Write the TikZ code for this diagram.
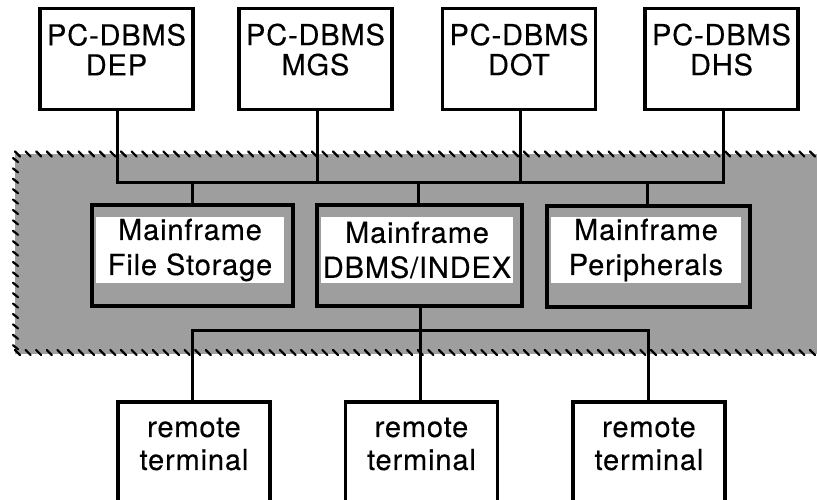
\documentclass[tikz,border=0pt]{standalone}
\usepackage{fontspec}
\setmainfont{TeX Gyre Heros}[LetterSpace=3,FakeBold=0.3]
\begin{document}
\begin{tikzpicture}[x=1pt,y=-1pt,
  conn/.style={line width=3pt},
  hatch/.style={line width=2.2pt,line cap=round},
  shade/.style={fill=black!38},
  topbox/.style={draw,line width=3.2pt,fill=white,minimum width=153pt,minimum height=101pt,inner sep=0pt},
  midbox/.style={draw,line width=3.8pt,shade,minimum height=101pt,inner sep=0pt},
  termbox/.style={draw,line width=3.2pt,fill=white,minimum width=152pt,minimum height=200pt,inner sep=0pt},
  toptxt/.style={inner sep=0pt,align=center,font=\fontsize{29}{30}\selectfont},
  midtxt/.style={inner sep=0pt,align=center,fill=white,minimum height=66pt,font=\fontsize{29}{35}\selectfont},
  termtxt/.style={inner sep=0pt,align=center,font=\fontsize{29}{33}\selectfont}
]
\clip (0,0) rectangle (817,499);
\fill[white] (0,0) rectangle (817,499);

% shaded mainframe region
\fill[shade] (15,154) rectangle (830,354);
\foreach \i in {0,...,76} \draw[hatch] ({15+\i*10.6},151.5) -- ++(5,5);
\foreach \i in {0,...,18} \draw[hatch] (13,{158+\i*10.4}) -- ++(5,4);
\foreach \i in {0,...,76} \draw[hatch] ({15+\i*10.6},350) -- ++(5,5);

% junction coordinates
\coordinate (t1) at (117,182);
\coordinate (t2) at (317,182);
\coordinate (t3) at (520,182);
\coordinate (t4) at (723,182);
\coordinate (m1) at (192,182);
\coordinate (m2) at (418,182);
\coordinate (m3) at (647,182);
\coordinate (l1) at (192,330);
\coordinate (l2) at (420,330);
\coordinate (l3) at (648,330);

% boxes
\node[topbox] (dep) at (116.5,59) {};
\node[topbox] (mgs) at (315.5,59) {};
\node[topbox] (dot) at (519,59) {};
\node[topbox] (dhs) at (721.5,59) {};

\node[midbox,minimum width=201pt] (fs) at (192.5,255.5) {};
\node[midbox,minimum width=205pt] (dbms) at (419.5,255.5) {};
\node[midbox,minimum width=203pt] (per) at (648.5,256.5) {};

\node[termbox] (rt1) at (194,502) {};
\node[termbox] (rt2) at (421.5,502) {};
\node[termbox] (rt3) at (649,502) {};

% connectors
\draw[conn] (dep.south -| t1) -- (t1) -- (t4) -- (t4 |- dhs.south);
\draw[conn] (mgs.south -| t2) -- (t2);
\draw[conn] (dot.south -| t3) -- (t3);
\draw[conn] (m1) -- (m1 |- fs.north);
\draw[conn] (m2) -- (m2 |- dbms.north);
\draw[conn] (m3) -- (m3 |- per.north);
\draw[conn] (dbms.south -| l2) -- (l2);
\draw[conn] (rt1.north -| l1) -- (l1) -- (l3) -- (l3 |- rt3.north);
\draw[conn] (l2) -- (l2 |- rt2.north);

% texts
\node[toptxt] (depT) at (116.5,49.6) {PC-DBMS\\DEP};
\node[toptxt] (mgsT) at (315.5,49.6) {PC-DBMS\\MGS};
\node[toptxt] (dotT) at (519,49.6) {PC-DBMS\\DOT};
\node[toptxt] (dhsT) at (721.5,49.6) {PC-DBMS\\DHS};

\node[midtxt,minimum width=188pt] (fsT) at (190,250) {Mainframe\\File Storage};
\node[midtxt,minimum width=192pt] (dbmsT) at (417,250) {Mainframe\\DBMS/INDEX};
\node[midtxt,minimum width=190pt] (perT) at (646,250) {Mainframe\\Peripherals};

\node[termtxt] (rt1T) at (194,444) {remote\\terminal};
\node[termtxt] (rt2T) at (421.5,444) {remote\\terminal};
\node[termtxt] (rt3T) at (649,444) {remote\\terminal};
\end{tikzpicture}
\end{document}
